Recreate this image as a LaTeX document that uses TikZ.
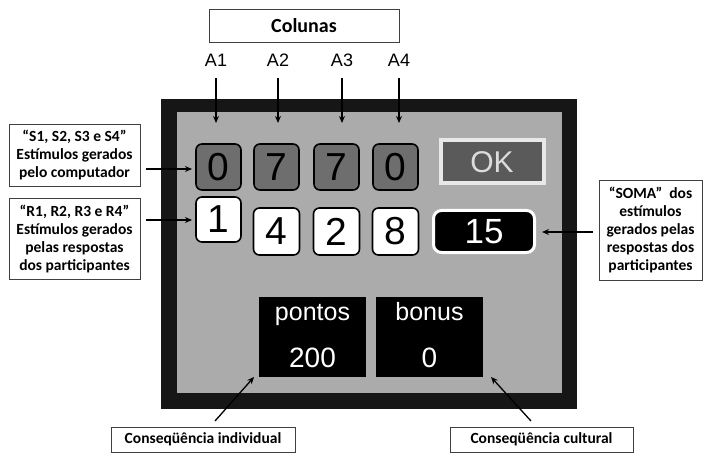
\documentclass[tikz,border=0pt]{standalone}
\usepackage{fontspec}
\setmainfont{Carlito}
\newfontfamily\arialfont{Liberation Sans}
\usetikzlibrary{arrows.meta}
\definecolor{framec}{HTML}{161616}
\definecolor{panelc}{HTML}{ABABAB}
\definecolor{darksq}{HTML}{6E6E6E}
\definecolor{okfill}{HTML}{5A5A5A}
\definecolor{okline}{HTML}{E8E8E8}
\definecolor{oktext}{HTML}{DCDCDC}
\tikzset{
  labelbox/.style={draw=black!75, line width=0.8pt, fill=white, align=center, inner sep=0pt, font=\bfseries\fontsize{15.5}{18}\selectfont},
  graysq/.style={draw=black, line width=1.6pt, fill=darksq, rounded corners=6pt, minimum width=45pt, minimum height=46pt, inner sep=0pt, font=\arialfont\fontsize{39}{39}\selectfont},
  whitesq/.style={draw=black, line width=1.6pt, fill=white, rounded corners=6pt, minimum width=46pt, minimum height=47pt, inner sep=0pt, font=\arialfont\fontsize{39}{39}\selectfont},
  scorebox/.style={fill=black, minimum width=107pt, minimum height=80pt, inner sep=0pt},
  scoretxt/.style={text=white, font=\arialfont\fontsize{25}{25}\selectfont, inner sep=0pt, anchor=base},
  ptr/.style={-{Stealth[length=7pt,width=6pt]}, line width=1.3pt},
  colname/.style={font=\arialfont\fontsize{18}{18}\selectfont, inner sep=0pt}
}
\begin{document}
\begin{tikzpicture}[x=1pt,y=-1pt]
\useasboundingbox[fill=white] (0,0) rectangle (711,462);
% frame and panel
\fill[framec] (161,99) rectangle (577,409);
\fill[panelc] (177,112) rectangle (562,393);
% header
\node[labelbox, minimum width=190pt, minimum height=33pt, font=\bfseries\fontsize{20}{22}\selectfont] (col) at (304,25.5) {Colunas};
\node[colname] (a1) at (216,60) {A1};
\node[colname] (a2) at (278,60) {A2};
\node[colname] (a3) at (342,60) {A3};
\node[colname] (a4) at (399,60) {A4};
% top squares
\node[graysq] (s1) at (218.5,167) {0};
\node[graysq] (s2) at (276.5,167) {7};
\node[graysq] (s3) at (336.5,167) {7};
\node[graysq] (s4) at (395.5,167) {0};
% ok button
\node[draw=okline, line width=4pt, fill=okfill, minimum width=103pt, minimum height=43pt, inner sep=0pt, text=oktext, font=\arialfont\fontsize{30}{30}\selectfont] (ok) at (492,162) {OK};
% bottom squares
\node[whitesq, minimum width=45pt, minimum height=45pt] (r1) at (218.5,219.5) {1};
\node[whitesq] (r2) at (276.5,231.5) {4};
\node[whitesq] (r3) at (336.5,231.5) {2};
\node[whitesq] (r4) at (395.5,231.5) {8};
% sum
\node[draw=white, line width=3pt, fill=black, rounded corners=8pt, minimum width=101pt, minimum height=42pt, inner sep=0pt, text=white, font=\arialfont\fontsize{35}{35}\selectfont] (soma) at (484,231.5) {15};
% scores
\node[scorebox] (pontos) at (312.5,337) {};
\node[scorebox] (bonus) at (429.5,337) {};
\node[scoretxt] (pl) at (312.5,320) {pontos};
\node[scoretxt, font=\arialfont\fontsize{28}{28}\selectfont] (pv) at (312.5,367) {200};
\node[scoretxt] (bl) at (429.5,320) {bonus};
\node[scoretxt, font=\arialfont\fontsize{28}{28}\selectfont] (bv) at (429.5,367) {0};
% side labels
\node[labelbox, minimum width=131pt, minimum height=62pt] (ls) at (74.5,155) {“S1, S2, S3 e S4”\\Estímulos gerados\\pelo computador};
\node[labelbox, minimum width=131pt, minimum height=81pt] (lr) at (74.5,238.5) {“R1, R2, R3 e R4”\\Estímulos gerados\\pelas respostas\\dos participantes};
\node[labelbox, minimum width=103pt, minimum height=100pt] (lsoma) at (650.5,230) {“SOMA”~ dos\\estímulos\\gerados pelas\\respostas dos\\participantes};
\node[labelbox, minimum width=184pt, minimum height=25pt] (ci) at (203,439.5) {Conseqüência individual};
\node[labelbox, minimum width=183pt, minimum height=25pt] (cc) at (541.5,439.5) {Conseqüência cultural};
% arrow coordinates
\coordinate (a1s) at (216,78); \coordinate (a1e) at (216,123);
\coordinate (a2s) at (278,78); \coordinate (a2e) at (278,123);
\coordinate (a3s) at (342,78); \coordinate (a3e) at (342,123);
\coordinate (a4s) at (399,78); \coordinate (a4e) at (399,123);
\coordinate (lss) at (146,169); \coordinate (lse) at (192,169);
\coordinate (lrs) at (146,220); \coordinate (lre) at (192,220);
\coordinate (sms) at (593,232); \coordinate (sme) at (542,232);
\coordinate (cis) at (215,421); \coordinate (cie) at (254,377);
\coordinate (ccs) at (531,421); \coordinate (cce) at (491,377);
\draw[ptr] (a1s) -- (a1e);
\draw[ptr] (a2s) -- (a2e);
\draw[ptr] (a3s) -- (a3e);
\draw[ptr] (a4s) -- (a4e);
\draw[ptr] (lss) -- (lse);
\draw[ptr] (lrs) -- (lre);
\draw[ptr] (sms) -- (sme);
\draw[ptr] (cis) -- (cie);
\draw[ptr] (ccs) -- (cce);
\end{tikzpicture}
\end{document}
